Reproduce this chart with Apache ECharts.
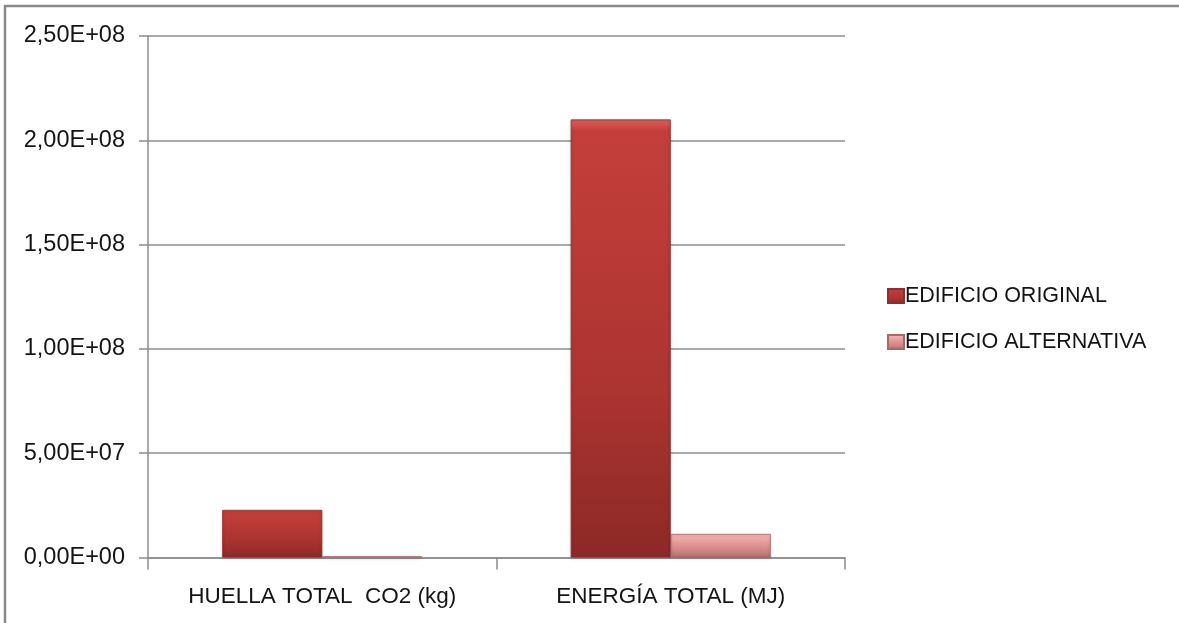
<!DOCTYPE html>
<html>
<head>
<meta charset="utf-8">
<script src="https://cdn.jsdelivr.net/npm/echarts@6/dist/echarts.min.js"></script>
<style>
  html, body { margin: 0; padding: 0; background: #fff; }
  #chart { width: 1179px; height: 623px; }
</style>
</head>
<body>
<div id="chart"></div>
<script>
// Categories and values (kg CO2 / MJ)
const categories = ['HUELLA TOTAL  CO2 (kg)', 'ENERGÍA TOTAL (MJ)'];
const seriesNames = ['EDIFICIO ORIGINAL', 'EDIFICIO ALTERNATIVA'];
const original = [2.28e7, 2.10e8];
const alternativa = [6.0e5, 1.13e7];
const yTicks = { min: 0, max: 2.5e8, interval: 5e7 };

const FONT = '"Liberation Sans", Arial, sans-serif';
const TEXT = '#141414';
const GRID = '#8c8c8c';

function fmtSci(v) {
  if (v === 0) return '0,00E+00';
  const exp = Math.floor(Math.log10(Math.abs(v)));
  const mant = v / Math.pow(10, exp);
  const sign = exp < 0 ? '-' : '+';
  const e = String(Math.abs(exp)).padStart(2, '0');
  return mant.toFixed(2).replace('.', ',') + 'E' + sign + e;
}

const redFill = new echarts.graphic.LinearGradient(0, 0, 0, 1, [
  { offset: 0, color: '#e0625e' },
  { offset: 0.025, color: '#c43f3b' },
  { offset: 0.6, color: '#ad3431' },
  { offset: 1, color: '#8c2926' }
]);
const pinkFill = new echarts.graphic.LinearGradient(0, 0, 0, 1, [
  { offset: 0, color: '#f6b8b6' },
  { offset: 0.3, color: '#eaa09e' },
  { offset: 0.7, color: '#cf8684' },
  { offset: 1, color: '#b06f6d' }
]);

const chart = echarts.init(document.getElementById('chart'), null, { renderer: 'canvas' });
chart.setOption({
  animation: false,
  backgroundColor: '#ffffff',
  textStyle: { fontFamily: FONT },
  grid: { left: 148, top: 36, right: 334, bottom: 65.5, containLabel: false },
  legend: {
    orient: 'vertical',
    left: 882,
    top: 280,
    itemGap: 24,
    itemWidth: 16,
    itemHeight: 14,
    icon: 'rect',
    textStyle: { fontFamily: FONT, fontSize: 21.5, color: TEXT, padding: [0, 0, 0, -4] },
    data: seriesNames
  },
  xAxis: {
    type: 'category',
    data: categories,
    axisLine: { lineStyle: { color: GRID, width: 1.5 } },
    axisTick: { show: true, interval: 0, length: 12, alignWithLabel: false, lineStyle: { color: GRID, width: 1.5 } },
    axisLabel: { interval: 0, hideOverlap: false, fontFamily: FONT, fontSize: 22.5, color: TEXT, margin: 28 }
  },
  yAxis: {
    type: 'value',
    min: yTicks.min,
    max: yTicks.max,
    interval: yTicks.interval,
    axisLine: { show: true, lineStyle: { color: GRID, width: 1.5 } },
    axisTick: { show: true, length: 9, lineStyle: { color: GRID, width: 1.5 } },
    splitLine: { show: true, lineStyle: { color: GRID, width: 1.5 } },
    axisLabel: { fontFamily: FONT, fontSize: 23.5, color: TEXT, margin: 23, formatter: fmtSci }
  },
  series: [
    {
      name: seriesNames[0],
      type: 'bar',
      data: original,
      barGap: '0%',
      barCategoryGap: '42.6%',
      itemStyle: { color: redFill, borderColor: '#8a2f2c', borderWidth: 0.8,
        shadowColor: 'rgba(0,0,0,0.25)', shadowBlur: 3, shadowOffsetY: 1 }
    },
    {
      name: seriesNames[1],
      type: 'bar',
      data: alternativa,
      itemStyle: { color: pinkFill, borderColor: '#a86a68', borderWidth: 0.8,
        shadowColor: 'rgba(0,0,0,0.25)', shadowBlur: 3, shadowOffsetY: 1 }
    }
  ],
  graphic: [
    { type: 'line', shape: { x1: 4, y1: 6, x2: 1179, y2: 6 }, style: { stroke: '#8a8a8a', lineWidth: 2.5 } },
    { type: 'line', shape: { x1: 5, y1: 5, x2: 5, y2: 623 }, style: { stroke: '#8a8a8a', lineWidth: 2.5 } }
  ]
});
</script>
</body>
</html>
